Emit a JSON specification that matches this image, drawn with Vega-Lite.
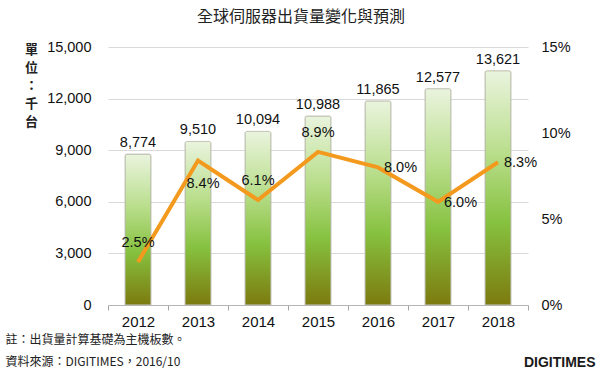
{
  "$schema": "https://vega.github.io/schema/vega-lite/v6.json",
  "width": 420,
  "height": 258,
  "autosize": {"type": "none"},
  "padding": {"left": 108, "top": 47, "right": 72, "bottom": 71},
  "background": "white",
  "title": {
    "text": "全球伺服器出貨量變化與預測",
    "font": "Noto Sans CJK TC",
    "fontSize": 16,
    "fontWeight": "normal",
    "color": "#222222",
    "anchor": "middle",
    "dx": -17,
    "offset": 14
  },
  "config": {
    "view": {"stroke": null},
    "font": "Liberation Sans",
    "axis": {"labelFont": "Liberation Sans", "labelColor": "#111111"}
  },
  "data": {
    "values": [
      {"year": "2012", "units": 8774, "growth": 0.025},
      {"year": "2013", "units": 9510, "growth": 0.084},
      {"year": "2014", "units": 10094, "growth": 0.061},
      {"year": "2015", "units": 10988, "growth": 0.089},
      {"year": "2016", "units": 11865, "growth": 0.080},
      {"year": "2017", "units": 12577, "growth": 0.060},
      {"year": "2018", "units": 13621, "growth": 0.083}
    ]
  },
  "encoding": {
    "x": {
      "field": "year",
      "type": "ordinal",
      "scale": {"paddingInner": 0, "paddingOuter": 0},
      "axis": {
        "labelAngle": 0,
        "labelFontSize": 15,
        "labelPadding": 4,
        "tickBand": "extent",
        "tickSize": 5,
        "tickColor": "#a6a6a6",
        "domainColor": "#b5b5b5",
        "grid": false,
        "title": ["註：出貨量計算基礎為主機板數。", "資料來源：DIGITIMES，2016/10"],
        "titleFont": "Noto Sans CJK TC",
        "titleFontSize": 12,
        "titleFontWeight": "normal",
        "titleColor": "#222222",
        "titleAnchor": null,
        "titleAlign": "left",
        "titleBaseline": "top",
        "titleAngle": 0,
        "titleX": -103,
        "titleY": 29,
        "titleLineHeight": 22
      }
    }
  },
  "layer": [
    {
      "encoding": {
        "y": {
          "field": "units",
          "type": "quantitative",
          "scale": {"domain": [0, 15000], "nice": false},
          "axis": {
            "values": [0, 3000, 6000, 9000, 12000, 15000],
            "format": ",d",
            "labelFontSize": 14.5,
            "labelPadding": 17,
            "ticks": false,
            "domain": false,
            "grid": true,
            "gridColor": "#d9d9d9",
            "title": ["單", "位", "：", "千", "台"],
            "titleFont": "Noto Sans CJK TC",
            "titleFontSize": 13,
            "titleFontWeight": "bold",
            "titleColor": "#222222",
            "titleAngle": 0,
            "titleAnchor": null,
            "titleAlign": "center",
            "titleBaseline": "top",
            "titleX": -77,
            "titleY": -4,
            "titleLineHeight": 18
          }
        }
      },
      "layer": [
        {
          "mark": {
            "type": "bar",
            "size": 26,
            "cornerRadiusTopLeft": 2,
            "cornerRadiusTopRight": 2,
            "stroke": "#b8b8a8",
            "strokeWidth": 0.8,
            "color": {
              "gradient": "linear",
              "x1": 0, "y1": 0, "x2": 0, "y2": 1,
              "stops": [
                {"offset": 0, "color": "#eaf4de"},
                {"offset": 0.35, "color": "#b9de8c"},
                {"offset": 0.65, "color": "#86c13f"},
                {"offset": 1, "color": "#7c7a0e"}
              ]
            }
          }
        },
        {
          "mark": {"type": "text", "baseline": "bottom", "dy": -4, "fontSize": 14.5, "color": "#111111"},
          "encoding": {
            "text": {"field": "units", "type": "quantitative", "format": ","}
          }
        }
      ]
    },
    {
      "encoding": {
        "y": {
          "field": "growth",
          "type": "quantitative",
          "scale": {"domain": [0, 0.15], "nice": false},
          "axis": {
            "orient": "right",
            "values": [0, 0.05, 0.1, 0.15],
            "format": ".0%",
            "labelFontSize": 14.5,
            "labelPadding": 13,
            "ticks": false,
            "domain": false,
            "grid": false,
            "title": "DIGITIMES",
            "titleFont": "Liberation Sans",
            "titleFontSize": 14,
            "titleFontWeight": "bold",
            "titleColor": "#1a1a1a",
            "titleAngle": 0,
            "titleAnchor": null,
            "titleAlign": "right",
            "titleBaseline": "middle",
            "titleX": 67,
            "titleY": 315
          }
        }
      },
      "layer": [
        {
          "mark": {"type": "line", "color": "#f39a1e", "strokeWidth": 4, "strokeJoin": "miter"}
        },
        {
          "transform": [{"filter": {"field": "year", "oneOf": ["2012", "2014", "2015"]}}],
          "mark": {"type": "text", "baseline": "middle", "dy": -19, "fontSize": 14.5, "color": "#111111"},
          "encoding": {
            "text": {"field": "growth", "type": "quantitative", "format": ".1%"}
          }
        },
        {
          "transform": [{"filter": {"field": "year", "oneOf": ["2013"]}}],
          "mark": {"type": "text", "baseline": "middle", "dy": 23, "dx": 5, "fontSize": 14.5, "color": "#111111"},
          "encoding": {
            "text": {"field": "growth", "type": "quantitative", "format": ".1%"}
          }
        },
        {
          "transform": [{"filter": {"field": "year", "oneOf": ["2016", "2017", "2018"]}}],
          "mark": {"type": "text", "baseline": "middle", "align": "left", "dx": 6, "dy": 1, "fontSize": 14.5, "color": "#111111"},
          "encoding": {
            "text": {"field": "growth", "type": "quantitative", "format": ".1%"}
          }
        }
      ]
    }
  ],
  "resolve": {"scale": {"y": "independent"}, "axis": {"y": "independent"}}
}
